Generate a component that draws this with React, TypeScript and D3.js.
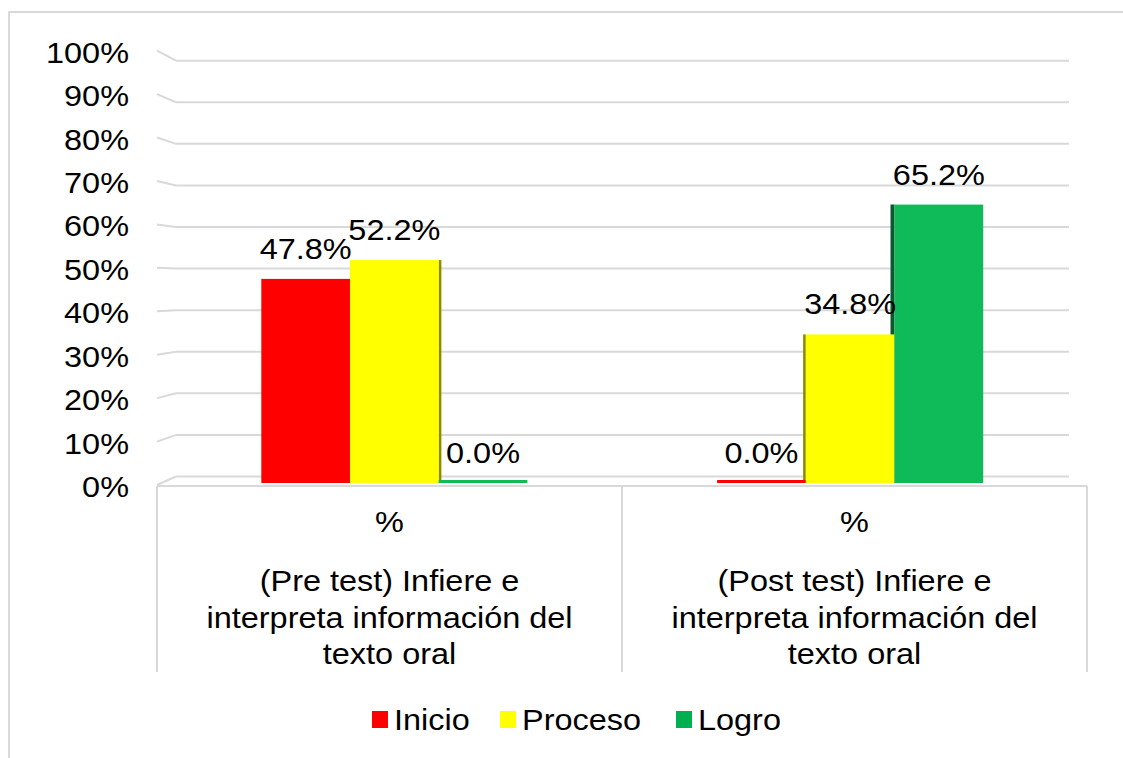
import React from "react";
import * as d3 from "d3";

// ---- data ----
const categories = ["pre", "post"];
const categoryLines = [
  ["(Pre test) Infiere e", "interpreta información del", "texto oral"],
  ["(Post test) Infiere e", "interpreta información del", "texto oral"],
];
const subLabels = ["%", "%"];
const seriesNames = ["Inicio", "Proceso", "Logro"];
const inicio = [47.8, 0.0];
const proceso = [52.2, 34.8];
const logro = [0.0, 65.2];
const yTicks = [0, 10, 20, 30, 40, 50, 60, 70, 80, 90, 100];
const yTickLabels = ["0%", "10%", "20%", "30%", "40%", "50%", "60%", "70%", "80%", "90%", "100%"];

// ---- style / layout ----
const W = 1123;
const H = 758;
const FILL = ["#FF0000", "#FFFF00", "#0EBB58"];
const SIDE = ["#8a0000", "#8c8c00", "#0b5a2e"];
const LEGEND_FILL = ["#FF0000", "#FFFF00", "#00B050"];
const GRID = "#d9d9d9";
const FONT = "'Liberation Sans', Arial, sans-serif";
const FS = 29.5;
const SX = 1.1;
const VANISH_X = 622;
const SIDE_K = 0.0147;
const LEGEND_X = [372, 500, 676];

const T = ({ x, y, anchor = "middle", children, baseline }: any) => (
  <text
    transform={`translate(${x},${y}) scale(${SX},1)`}
    textAnchor={anchor}
    dominantBaseline={baseline}
    fontFamily={FONT}
    fontSize={FS}
    fill="#000"
  >
    {children}
  </text>
);

export default function App() {
  const values = [inicio, proceso, logro];

  const yBar = d3.scaleLinear().domain([0, 100]).range([483, 56]);
  const yFront = d3.scaleLinear().domain([0, 100]).range([485, 50.7]);
  const yBack = d3.scaleLinear().domain([0, 100]).range([476.5, 60.7]);
  const xFrontL = 157, xFrontR = 1087, xBackL = 176, xBackR = 1069;

  const xBand = d3
    .scaleBand<string>()
    .domain(categories)
    .range([166.5, 1078])
    .paddingInner(0.4163)
    .paddingOuter(0.208);
  const xFront = d3.scaleBand<string>().domain(categories).range([xFrontL, xFrontR]);
  const xSeries = d3.scaleBand<string>().domain(seriesNames).range([0, xBand.bandwidth()]);

  const bars: any[] = [];
  categories.forEach((c, ci) => {
    seriesNames.forEach((s, si) => {
      const v = values[si][ci];
      const x0 = (xBand(c) as number) + (xSeries(s) as number);
      const x1 = x0 + xSeries.bandwidth();
      const base = yBar(0);
      const top = v === 0 ? base - 3 : yBar(v);
      bars.push({ c, ci, s, si, v, x0, x1, base, top });
    });
  });

  const sides = bars
    .filter((b) => b.v > 0)
    .map((b) => {
      const cx = (b.x0 + b.x1) / 2;
      if (cx < VANISH_X) {
        const w = Math.max(1, (VANISH_X - b.x1) * SIDE_K);
        return { ...b, pts: `${b.x1},${b.top} ${b.x1 + w},${b.top} ${b.x1 + w},${b.base} ${b.x1},${b.base}` };
      } else {
        const w = Math.max(1, (b.x0 - VANISH_X) * SIDE_K);
        return { ...b, pts: `${b.x0 - w},${b.top} ${b.x0},${b.top} ${b.x0},${b.base} ${b.x0 - w},${b.base}` };
      }
    });

  return (
    <svg
      width={W}
      height={H}
      style={{ position: "fixed", left: 0, top: 0, background: "#fff" }}
    >
      <rect x={0} y={0} width={W} height={H} fill="#fff" />
      {/* outer chart border */}
      <rect x={9} y={12} width={W + 10} height={H + 10} fill="none" stroke={GRID} strokeWidth={2} />

      {/* gridlines: left wall + back wall */}
      {yTicks.map((t) => (
        <g key={t}>
          <line x1={xFrontL} y1={yFront(t)} x2={xBackL} y2={yBack(t)} stroke={GRID} strokeWidth={2} />
          <line x1={xBackL} y1={yBack(t)} x2={xBackR} y2={yBack(t)} stroke={GRID} strokeWidth={2} />
        </g>
      ))}
      {/* floor front edge */}
      <line x1={xFrontL} y1={486} x2={xFrontR} y2={486} stroke={GRID} strokeWidth={2} />
      {/* category table verticals */}
      {[xFrontL, ...categories.map((c) => (xFront(c) as number) + xFront.bandwidth())].map((x, i) => (
        <line key={i} x1={x} y1={486} x2={x} y2={672} stroke={GRID} strokeWidth={2} />
      ))}

      {/* y tick labels */}
      {yTicks.map((t, i) => (
        <T key={t} x={129} y={yFront(t) + 2} anchor="end" baseline="central">
          {yTickLabels[i]}
        </T>
      ))}

      {/* bar side faces */}
      {sides.map((b, i) => (
        <polygon key={"s" + i} points={b.pts} fill={SIDE[b.si]} />
      ))}
      {/* bar fronts */}
      {bars.map((b, i) => (
        <rect key={"b" + i} x={b.x0} y={b.top} width={b.x1 - b.x0} height={b.base - b.top} fill={FILL[b.si]} />
      ))}

      {/* data labels */}
      {bars.map((b, i) => (
        <T key={"l" + i} x={(b.x0 + b.x1) / 2} y={(b.v === 0 ? yBar(0) : b.top) - 20}>
          {`${b.v.toFixed(1)}%`}
        </T>
      ))}

      {/* category labels */}
      {categories.map((c, ci) => {
        const cx = (xFront(c) as number) + xFront.bandwidth() / 2;
        return (
          <g key={c}>
            <T x={cx} y={532}>{subLabels[ci]}</T>
            {categoryLines[ci].map((ln, li) => (
              <T key={li} x={cx} y={591 + li * 36.6}>
                {ln}
              </T>
            ))}
          </g>
        );
      })}

      {/* legend */}
      {seriesNames.map((s, si) => (
        <g key={s}>
          <rect x={LEGEND_X[si]} y={711} width={16} height={17} fill={LEGEND_FILL[si]} />
          <T x={LEGEND_X[si] + 22} y={720} anchor="start" baseline="central">
            {s}
          </T>
        </g>
      ))}
    </svg>
  );
}
